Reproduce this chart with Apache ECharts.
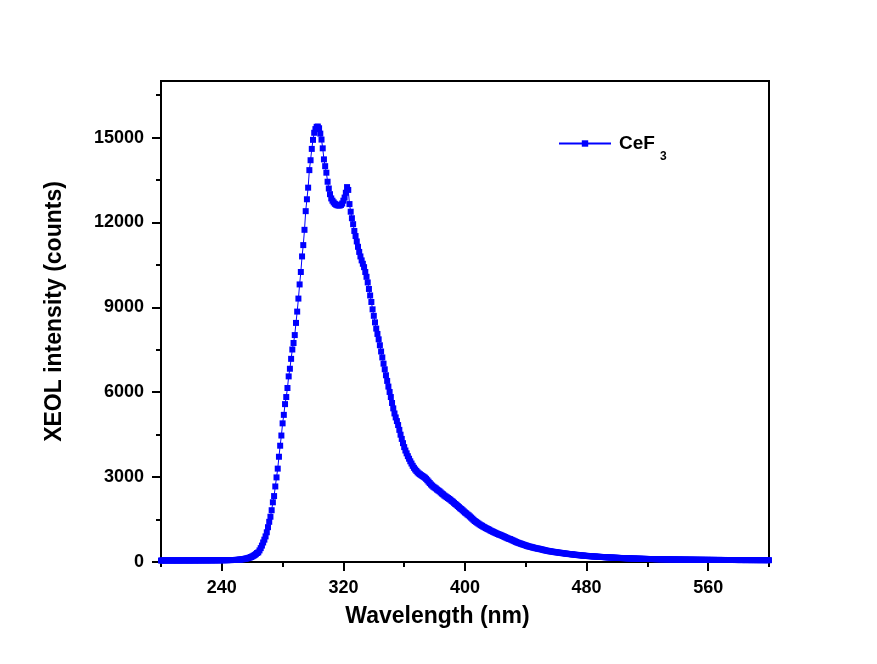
<!DOCTYPE html>
<html>
<head>
<meta charset="utf-8">
<title>CeF3 XEOL spectrum</title>
<script src="https://cdn.jsdelivr.net/npm/echarts@6/dist/echarts.min.js"></script>
<style>
  html, body { margin: 0; padding: 0; background: #ffffff; }
  #chart { width: 877px; height: 664px; }
</style>
</head>
<body>
<div id="chart"></div>
<script>
// Spectrometer grid: first wavelength (nm) and sampling step (nm)
const startWavelength = 200;
const stepWavelength = 0.8;

// XEOL intensity (counts), one value per grid point, 10 values per row (8 nm)
const intensity = [
  52, 55, 54, 56, 53, 55, 57, 54, 56, 55,            // 200.0
  54, 56, 55, 53, 57, 55, 54, 56, 55, 57,            // 208.0
  56, 55, 58, 54, 56, 57, 55, 58, 56, 57,            // 216.0
  58, 56, 57, 59, 57, 58, 60, 57, 59, 58,            // 224.0
  59, 60, 58, 61, 60, 59, 62, 60, 61, 63,            // 232.0
  62, 64, 63, 65, 64, 66, 68, 67, 69, 70,            // 240.0
  70, 72, 75, 78, 82, 86, 91, 97, 104, 112,          // 248.0
  121, 132, 144, 158, 175, 195, 218, 245, 278, 318,  // 256.0
  340, 410, 490, 580, 690, 790, 905, 1050, 1230, 1420,        // 264.0
  1600, 1830, 2110, 2330, 2670, 2990, 3300, 3720, 4110, 4470, // 272.0
  4900, 5200, 5580, 5830, 6150, 6560, 6830, 7180, 7510, 7740, // 280.0
  8020, 8450, 8850, 9310, 9810, 10250, 10800, 11200, 11740, 12400,      // 288.0
  12820, 13230, 13850, 14200, 14600, 14920, 15170, 15300, 15380, 15390, // 296.0
  15330, 15140, 14930, 14620, 14230, 13990, 13760, 13440, 13200, 13000, // 304.0
  12850, 12770, 12710, 12660, 12630, 12610, 12600, 12600, 12620, 12670, // 312.0
  12770, 12880, 13050, 13250, 13150, 12650, 12380, 12150, 11940, 11700, // 320.0
  11520, 11330, 11140, 10960, 10800, 10660, 10540, 10420, 10250, 10080, // 328.0
  9880, 9650, 9420, 9190, 8930, 8700, 8470, 8250, 8060, 7870, // 336.0
  7660, 7440, 7230, 7010, 6810, 6600, 6400, 6200, 6010, 5830, // 344.0
  5620, 5430, 5250, 5110, 4980, 4840, 4670, 4500, 4350, 4200, // 352.0
  4060, 3940, 3840, 3740, 3650, 3560, 3480, 3400, 3330, 3270, // 360.0
  3220, 3170, 3130, 3100, 3070, 3040, 3010, 2980, 2940, 2890, // 368.0
  2840, 2790, 2740, 2700, 2660, 2630, 2600, 2560, 2530, 2500, // 376.0
  2460, 2420, 2390, 2350, 2320, 2290, 2260, 2230, 2200, 2160, // 384.0
  2130, 2090, 2050, 2020, 1980, 1940, 1900, 1870, 1830, 1790, // 392.0
  1750, 1720, 1680, 1650, 1610, 1570, 1530, 1490, 1450, 1420, // 400.0
  1390, 1360, 1330, 1300, 1280, 1250, 1230, 1200, 1180, 1160, // 408.0
  1140, 1110, 1090, 1070, 1050, 1030, 1010, 990, 970, 960,    // 416.0
  940, 920, 900, 880, 860, 840, 820, 810, 790, 770,           // 424.0
  750, 730, 710, 690, 675, 660, 645, 630, 615, 600,           // 432.0
  585, 570, 556, 545, 535, 524, 512, 500, 490, 480,           // 440.0
  472, 465, 455, 445, 433, 422, 412, 402, 393, 385,           // 448.0
  378, 371, 364, 357, 350, 344, 338, 332, 326, 320,           // 456.0
  314, 308, 302, 296, 290, 285, 280, 275, 270, 265,           // 464.0
  260, 255, 250, 245, 240, 236, 232, 228, 224, 220,           // 472.0
  216, 212, 208, 205, 202, 199, 196, 193, 190, 187,           // 480.0
  184, 181, 178, 176, 173, 171, 168, 166, 163, 161,           // 488.0
  159, 157, 154, 152, 150, 148, 146, 144, 142, 140,           // 496.0
  138, 136, 134, 132, 131, 129, 127, 126, 124, 122,           // 504.0
  121, 119, 118, 116, 115, 114, 112, 111, 110, 109,           // 512.0
  108, 107, 106, 105, 104, 103, 102, 101, 100, 99,            // 520.0
  98, 97, 97, 96, 95, 94, 94, 93, 92, 92,                     // 528.0
  91, 90, 90, 89, 88, 88, 87, 87, 86, 85,                     // 536.0
  85, 84, 84, 83, 83, 82, 82, 81, 81, 80,                     // 544.0
  80, 79, 79, 78, 78, 78, 77, 77, 76, 76,                     // 552.0
  76, 75, 75, 75, 74, 74, 74, 73, 73, 73,                     // 560.0
  72, 72, 72, 72, 71, 71, 71, 71, 70, 70,                     // 568.0
  70, 70, 70, 69, 69, 69, 69, 69, 68, 68,                     // 576.0
  68, 68, 68, 68, 67, 67, 67, 67, 67, 67,                     // 584.0
  66, 66, 66, 66, 66, 66, 66, 65, 65, 65,                     // 592.0
  65                                                          // 600.0
];

// Axis ticks and labels
const xMajorTicks = [240, 320, 400, 480, 560];
const xMinorTicks = [200, 280, 360, 440, 520, 600];
const yMajorTicks = [0, 3000, 6000, 9000, 12000, 15000];
const yMinorTicks = [1500, 4500, 7500, 10500, 13500, 16500];

const seriesName = 'CeF3';

const points = intensity.map((v, i) => [
  +(startWavelength + i * stepWavelength).toFixed(1), v
]);

const FONT = '"Liberation Sans", Arial, Helvetica, sans-serif';
const tickLabelStyle = {
  fontFamily: FONT, fontWeight: 'bold', fontSize: 18, color: '#000',
  formatter: (v) => String(v)
};

const chart = echarts.init(document.getElementById('chart'), null, { renderer: 'canvas' });

chart.setOption({
  animation: false,
  backgroundColor: '#ffffff',
  grid: {
    left: 161, top: 81, width: 608, height: 481,
    show: true, borderColor: '#000', borderWidth: 2, backgroundColor: 'transparent'
  },
  legend: {
    data: [seriesName],
    left: 553, top: 129,
    itemWidth: 52, itemHeight: 8, itemGap: 0,
    formatter: () => '{a|CeF}{b|3}',
    textStyle: {
      color: '#000',
      rich: {
        a: { fontFamily: FONT, fontWeight: 'bold', fontSize: 19, color: '#000', padding: [0, 0, 0, 3] },
        b: { fontFamily: FONT, fontWeight: 'bold', fontSize: 12, color: '#000', padding: [27, 0, 0, 5] }
      }
    }
  },
  xAxis: [
    {
      type: 'value', min: 200, max: 600, interval: 40,
      name: 'Wavelength (nm)', nameLocation: 'middle', nameGap: 43,
      nameTextStyle: { fontFamily: FONT, fontWeight: 'bold', fontSize: 23, color: '#000', padding: [0, 55, 0, 0] },
      axisLine: { show: true, lineStyle: { color: '#000', width: 2 } },
      axisTick: { show: true, customValues: xMajorTicks, length: 9, lineStyle: { color: '#000', width: 2 } },
      axisLabel: Object.assign({ customValues: xMajorTicks, margin: 17 }, tickLabelStyle),
      splitLine: { show: false }
    },
    {
      type: 'value', min: 200, max: 600, interval: 40, position: 'bottom',
      axisLine: { show: false },
      axisTick: { show: true, customValues: xMinorTicks, length: 5, lineStyle: { color: '#000', width: 2 } },
      axisLabel: { show: false },
      splitLine: { show: false }
    }
  ],
  yAxis: [
    {
      type: 'value', min: 0, max: 17000, interval: 1500,
      name: 'XEOL intensity (counts)', nameLocation: 'middle', nameGap: 95,
      nameTextStyle: { fontFamily: FONT, fontWeight: 'bold', fontSize: 23, color: '#000', padding: [0, 0, 0, 20] },
      axisLine: { show: true, lineStyle: { color: '#000', width: 2 } },
      axisTick: { show: true, customValues: yMajorTicks, length: 9, lineStyle: { color: '#000', width: 2 } },
      axisLabel: Object.assign({ customValues: yMajorTicks, margin: 17 }, tickLabelStyle),
      splitLine: { show: false }
    },
    {
      type: 'value', min: 0, max: 17000, interval: 1500, position: 'left',
      axisLine: { show: false },
      axisTick: { show: true, customValues: yMinorTicks, length: 5, lineStyle: { color: '#000', width: 2 } },
      axisLabel: { show: false },
      splitLine: { show: false }
    }
  ],
  series: [
    {
      name: seriesName,
      type: 'line',
      data: points,
      xAxisIndex: 0, yAxisIndex: 0,
      symbol: 'rect', symbolSize: 6, showSymbol: true, showAllSymbol: true,
      itemStyle: { color: '#0000ff' },
      lineStyle: { color: '#0000ff', width: 1 },
      emphasis: { disabled: true }
    }
  ]
});
</script>
</body>
</html>
